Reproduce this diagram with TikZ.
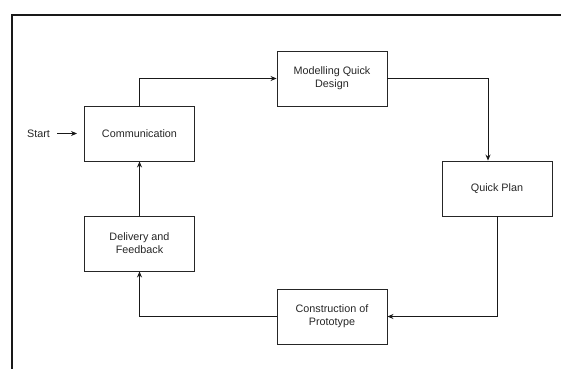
\documentclass[tikz,border=0pt]{standalone}
\usepackage{fontspec}
\setmainfont{Liberation Sans}
\usetikzlibrary{arrows.meta}
\begin{document}
\begin{tikzpicture}[x=1pt,y=-1pt,
  box/.style={draw=black!85,line width=0.9pt,minimum width=110pt,minimum height=55pt,align=center,inner sep=2pt,font=\fontsize{10.8}{13}\selectfont,text=black!85},
  conn/.style={draw=black!90,line width=0.8pt,-{Stealth[length=6pt,width=5pt]}},
  lbl/.style={font=\fontsize{10.8}{13}\selectfont,text=black!85,inner sep=0pt}]
\useasboundingbox (0,0) rectangle (561,369);
\draw[line width=2pt,black!90] (561,15) -- (12,15) -- (12,369);
\node[box] (comm) at (139.5,133.5) {Communication};
\node[box] (model) at (332,78.5) {Modelling Quick\\Design};
\node[box] (plan) at (497,188.5) {Quick Plan};
\node[box] (cons) at (332,316.5) {Construction of\\Prototype};
\node[box] (deliv) at (139.5,243.5) {Delivery and\\Feedback};
\node[lbl] (start) at (38.5,133.5) {Start};
\coordinate (startend) at (77,133.5);
\draw[conn] ([xshift=7pt]start.east) -- (startend);
\draw[conn] (comm.north) |- (model.west);
\draw[conn] (model.east) -| ([xshift=-9pt]plan.north);
\draw[conn] (plan.south) |- (cons.east);
\draw[conn] (cons.west) -| (deliv.south);
\draw[conn] (deliv.north) -- (comm.south);
\end{tikzpicture}
\end{document}
